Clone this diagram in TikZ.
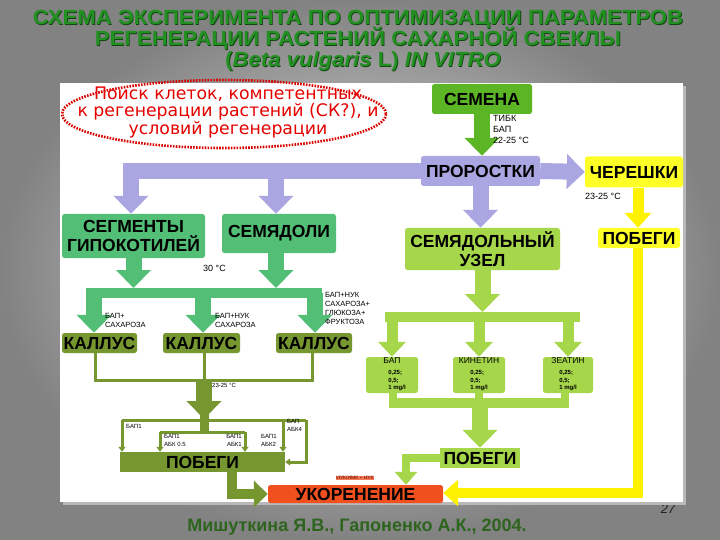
\documentclass[tikz,border=0pt]{standalone}
\usepackage{fontspec}
\setmainfont{Liberation Sans}
\newfontfamily\redfont{DejaVu Sans}
\newfontfamily\titlefont[FakeStretch=1.08]{Liberation Sans}
\usetikzlibrary{arrows.meta,shapes.geometric,calc}
\definecolor{titlegreen}{RGB}{34,145,34}
\definecolor{titleshadow}{RGB}{20,70,20}
\definecolor{semgreen}{RGB}{92,181,36}
\definecolor{lav}{RGB}{170,166,226}
\definecolor{segreen}{RGB}{82,190,118}
\definecolor{olivegr}{RGB}{118,150,48}
\definecolor{lightgr}{RGB}{166,214,74}
\definecolor{ukorc}{RGB}{240,80,30}
\definecolor{yel}{RGB}{255,255,40}
\definecolor{credit}{RGB}{45,100,30}
\begin{document}
\begin{tikzpicture}[x=1pt,y=-1pt,
  box/.style={rectangle, rounded corners=2.5pt, inner sep=0pt, align=center, font=\bfseries\fontsize{17.5}{19}\selectfont},
  lbl/.style={inner sep=0pt, anchor=north west, align=left, font=\fontsize{9}{11}\selectfont},
  tinylbl/.style={inner sep=0pt, anchor=north west, align=left, font=\fontsize{7.5}{9}\selectfont},
  microlbl/.style={inner sep=0pt, anchor=north west, align=left, font=\fontsize{6}{8.5}\selectfont},
  bigarrow/.style={draw=#1, line width=16pt, -{Triangle[width=34pt,length=18pt]}},
  midarrow/.style={draw=#1, line width=11pt, -{Triangle[width=27pt,length=15pt]}},
  olivethin/.style={draw=olivegr, line width=3pt},
  smalltip/.style={-{Triangle[width=7pt,length=5pt]}},
  ttl/.style={inner sep=0pt, anchor=base, text height=14.5pt, text depth=1pt, font=\titlefont\bfseries\fontsize{20.5}{22}\selectfont}
]
\useasboundingbox (0,0) rectangle (720,540);
% background
\shade[inner color={rgb,255:red,228;green,228;blue,228}, outer color={rgb,255:red,130;green,130;blue,130}] (0,0) rectangle (720,540);
\node[text=gray!25!black, font=\itshape\fontsize{13}{13}\selectfont, inner sep=0pt] (pg) at (668,509) {27};
\fill[gray!55] (63,86) rectangle (686,505);
\fill[white] (60,83) rectangle (683,502);

% title
\node[ttl, text=titleshadow] (t1s) at (358.8,25.8) {СХЕМА ЭКСПЕРИМЕНТА ПО ОПТИМИЗАЦИИ ПАРАМЕТРОВ};
\node[ttl, text=titlegreen] (t1) at (358,25) {СХЕМА ЭКСПЕРИМЕНТА ПО ОПТИМИЗАЦИИ ПАРАМЕТРОВ};
\node[ttl, text=titleshadow] (t2s) at (358.8,46.3) {РЕГЕНЕРАЦИИ РАСТЕНИЙ САХАРНОЙ СВЕКЛЫ};
\node[ttl, text=titlegreen] (t2) at (358,45.5) {РЕГЕНЕРАЦИИ РАСТЕНИЙ САХАРНОЙ СВЕКЛЫ};
\node[ttl, text depth=4pt, text height=14pt, text=titleshadow] (t3s) at (363.8,67.3) {(\textit{Beta vulgaris} L) \textit{IN VITRO}};
\node[ttl, text depth=4pt, text height=14pt, text=titlegreen] (t3) at (363,66.5) {(\textit{Beta vulgaris} L) \textit{IN VITRO}};

% goal ellipse
\draw[red!85!black, line width=2.6pt, dash pattern=on 1.6pt off 1.3pt] (224,114) ellipse [x radius=162, y radius=34];
\node[text=red!90!black, align=center, inner sep=0pt, font=\redfont\fontsize{17.3}{17.5}\selectfont] (goal) at (228,112)
  {Поиск клеток, компетентных\\к регенерации растений (СК?), и\\условий регенерации};

% boxes
\node[box, fill=semgreen, minimum width=100pt, minimum height=30pt] (semena) at (482,99) {СЕМЕНА};
\node[box, fill=lav, minimum width=119pt, minimum height=30pt] (pro) at (480.5,171) {ПРОРОСТКИ};
\node[box, fill=yel, minimum width=98pt, minimum height=31pt] (cher) at (634,172) {ЧЕРЕШКИ};
\node[box, fill=segreen, minimum width=143pt, minimum height=44pt] (seg) at (133.5,236) {СЕГМЕНТЫ\\ГИПОКОТИЛЕЙ};
\node[box, fill=segreen, minimum width=114pt, minimum height=39pt] (sem) at (279,233.5) {СЕМЯДОЛИ};
\node[box, fill=lightgr, minimum width=155pt, minimum height=42pt] (uzel) at (482.5,249) {СЕМЯДОЛЬНЫЙ\\УЗЕЛ};
\node[box, fill=yel, minimum width=82pt, minimum height=20pt] (poby) at (639,238) {ПОБЕГИ};
\node[box, fill=olivegr, minimum width=75pt, minimum height=20pt] (cal1) at (99.5,343) {КАЛЛУС};
\node[box, fill=olivegr, minimum width=77pt, minimum height=20pt] (cal2) at (201.5,343) {КАЛЛУС};
\node[box, fill=olivegr, minimum width=76pt, minimum height=20pt] (cal3) at (314,343) {КАЛЛУС};
\node[box, fill=olivegr, minimum width=165pt, minimum height=20pt, rounded corners=0pt] (pobo) at (202.5,462) {ПОБЕГИ};
\node[box, fill=ukorc, minimum width=175pt, minimum height=18pt] (ukor) at (355.5,494) {УКОРЕНЕНИЕ};
\node[box, fill=lightgr, minimum width=80pt, minimum height=20pt, rounded corners=0pt] (pobl) at (480,458) {ПОБЕГИ};
\node[box, fill=lightgr, minimum width=52pt, minimum height=36pt, font=\fontsize{8.5}{10}\selectfont] (bap) at (392,375)
  {БАП\\[1pt]\hspace*{10pt}{\bfseries\fontsize{6}{7.5}\selectfont\begin{tabular}[t]{@{}l@{}}0,25;\\0,5;\\1 mg/l\end{tabular}}};
\node[box, fill=lightgr, minimum width=52pt, minimum height=36pt, font=\fontsize{8.5}{10}\selectfont] (kin) at (479,375)
  {КИНЕТИН\\[1pt]{\bfseries\fontsize{6}{7.5}\selectfont\begin{tabular}[t]{@{}l@{}}0,25;\\0,5;\\1 mg/l\end{tabular}}};
\node[box, fill=lightgr, minimum width=50pt, minimum height=36pt, font=\fontsize{8.5}{10}\selectfont] (zea) at (568,375)
  {ЗЕАТИН\\[1pt]{\bfseries\fontsize{6}{7.5}\selectfont\begin{tabular}[t]{@{}l@{}}0,25;\\0,5;\\1 mg/l\end{tabular}}};

% lavender connectors
\coordinate (lvL) at (131,171);
\coordinate (lvR) at (276,171);
\draw[bigarrow=lav] (pro.west) -- (lvL) -- (lvL |- seg.north);
\draw[bigarrow=lav] (lvR) -- (lvR |- sem.north);
\draw[bigarrow=lav] (pro.south) -- (pro.south |- uzel.north);
\draw[bigarrow=lav] (pro.east) -- (cher.west);
\draw[bigarrow=semgreen] (semena.south) -- (semena.south |- pro.north);

% yellow connectors
\coordinate (yx) at (638,0);
\coordinate (ycor) at (638,493);
\draw[draw=yellow, line width=11pt, -{Triangle[width=26pt,length=15pt]}] (cher.south -| yx) -- (poby.north -| yx);
\draw[draw=yellow, line width=10pt, -{Triangle[width=26pt,length=15pt]}] (poby.south -| yx) -- (ycor) -- (ycor -| ukor.east);

% sea-green connectors
\coordinate (gbL) at (86,293);
\coordinate (gbR) at (322,293);
\coordinate (gb1) at (94,293);
\coordinate (gb2) at (203,293);
\coordinate (gb3) at (315,293);
\draw[segreen, line width=10pt] (gbL) -- (gbR);
\draw[bigarrow=segreen] (seg.south) -- (seg.south |- 0,288);
\draw[bigarrow=segreen] (lvR |- sem.south) -- (lvR |- 0,288);
\draw[bigarrow=segreen] (gb1) -- (gb1 |- cal1.north);
\draw[bigarrow=segreen] (gb2) -- (gb2 |- cal2.north);
\draw[bigarrow=segreen] (gb3) -- (gb3 |- cal3.north);

% olive connectors
\coordinate (ob1) at (95,380);
\coordinate (ob2) at (204,380);
\coordinate (ob3) at (312,380);
\draw[olivethin] (cal1.south -| ob1) -- (ob1) -- (ob3) -- (cal3.south -| ob3);
\draw[olivethin] (cal2.south -| ob2) -- (ob2);
\draw[olivegr, line width=9pt] (204,410) -- (204,433);
\draw[bigarrow=olivegr] (ob2) -- (204,419);
\coordinate (oA) at (122,420);
\coordinate (oB) at (283,420);
\coordinate (oC) at (306,420);
\coordinate (iA) at (160,432);
\coordinate (iB) at (245,432);
\draw[olivethin] (oA) -- (oC);
\draw[olivethin] (iA) -- (iB);
\draw[olivethin, smalltip] (oA) -- (oA |- pobo.north);
\draw[olivethin, smalltip] (iA) -- (iA |- pobo.north);
\draw[olivethin, smalltip] (iB) -- (iB |- pobo.north);
\draw[olivethin, smalltip] (oB) -- (oB |- pobo.north);
\draw[olivethin, smalltip] (oC) -- (oC |- pobo.east) -- (pobo.east);
\coordinate (oD) at (232,0);
\draw[olivegr, line width=10pt, -{Triangle[width=26pt,length=14pt]}] (pobo.south -| oD) -- (ukor.west -| oD) -- (ukor.west);

% light green connectors
\coordinate (lbL) at (385,317);
\coordinate (lbR) at (580,317);
\draw[lightgr, line width=10pt] (lbL) -- (lbR);
\draw[bigarrow=lightgr] (uzel.south) -- (uzel.south |- 0,312);
\draw[midarrow=lightgr] (bap.north |- lbL) -- (bap.north);
\draw[midarrow=lightgr] (kin.north |- lbL) -- (kin.north);
\draw[midarrow=lightgr] (zea.north |- lbL) -- (zea.north);
\coordinate (lb2L) at (389,403);
\coordinate (lb2R) at (569,403);
\draw[lightgr, line width=10pt] (lb2L) -- (lb2R);
\draw[lightgr, line width=8pt] (393,393) -- (393,403);
\draw[lightgr, line width=8pt] (kin.south) -- (kin.south |- lb2L);
\draw[lightgr, line width=8pt] (565,393) -- (565,403);
\draw[bigarrow=lightgr] (pobl.north |- lb2L) -- (pobl.north);
\coordinate (lgx) at (406,0);
\draw[lightgr, line width=8pt, -{Triangle[width=22pt,length=13pt]}] (pobl.west) -- (pobl.west -| lgx) -- (ukor.north -| lgx);

% small labels
\node[lbl, font=\fontsize{9}{11}\selectfont] (tibk) at (493,115) {ТИБК\\БАП\\22-25 °C};
\node[lbl] (tc1) at (585,193) {23-25 °C};
\node[lbl] (tc2) at (203,265) {30 °C};
\node[tinylbl] (l1) at (105,313) {БАП+\\САХАРОЗА};
\node[tinylbl] (l2) at (215,313) {БАП+НУК\\САХАРОЗА};
\node[tinylbl] (l3) at (325,292) {БАП+НУК\\САХАРОЗА+\\ГЛЮКОЗА+\\ФРУКТОЗА};
\node[microlbl] (tc3) at (212,383) {23-25 °C};
\node[microlbl] (m1) at (126,424) {БАП1};
\node[microlbl] (m2) at (164,434) {БАП1\\АБК 0.5};
\node[microlbl, anchor=north east, align=right] (m3) at (242,434) {БАП1\\АБК1};
\node[microlbl] (m4) at (261,434) {БАП1\\АБК2};
\node[microlbl] (m5) at (287,419) {БАП\\АБК4};
\node[fill=ukorc!75, text=red!45!black, font=\fontsize{5}{6}\selectfont, inner sep=0.6pt] (ukl) at (355,478) {ИУК/ИМК + НУК};

% credit
\node[inner sep=0pt, anchor=base, text=credit, font=\bfseries\fontsize{18}{20}\selectfont] (cred) at (357,531) {Мишуткина Я.В., Гапоненко А.К., 2004.};
\end{tikzpicture}
\end{document}
